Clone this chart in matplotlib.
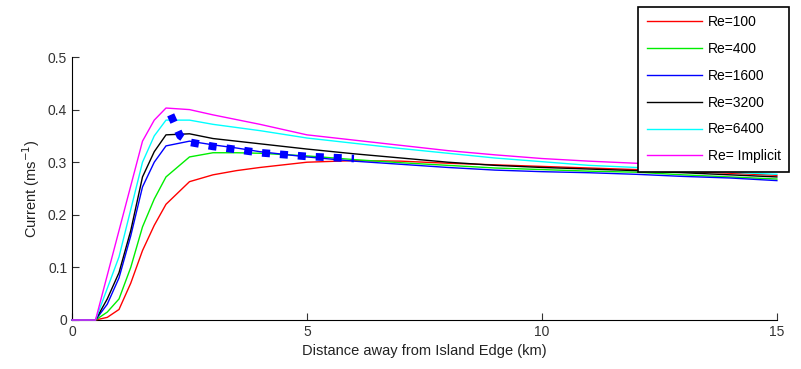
import matplotlib
matplotlib.use("Agg")
import matplotlib.pyplot as plt
import numpy as np

plt.rcParams['font.family'] = ['Liberation Sans', 'DejaVu Sans']

x = [0, 0.5, 0.75, 1.0, 1.25, 1.5, 1.75, 2.0, 2.5, 3.0, 3.5, 4.0, 5, 6, 7, 8, 9, 10, 11, 12, 13, 14, 15]
re100 = [0, 0, 0.005, 0.02, 0.07, 0.132, 0.18, 0.22, 0.263, 0.276, 0.284, 0.29, 0.300, 0.303, 0.302, 0.298, 0.295, 0.292, 0.289, 0.286, 0.283, 0.279, 0.275]
re400 = [0, 0, 0.015, 0.04, 0.10, 0.177, 0.23, 0.272, 0.31, 0.318, 0.318, 0.317, 0.312, 0.305, 0.299, 0.294, 0.289, 0.286, 0.283, 0.281, 0.276, 0.272, 0.268]
re1600 = [0, 0, 0.03, 0.08, 0.16, 0.253, 0.30, 0.331, 0.340, 0.333, 0.327, 0.32, 0.31, 0.302, 0.296, 0.29, 0.285, 0.282, 0.28, 0.277, 0.273, 0.27, 0.265]
re3200 = [0, 0, 0.04, 0.09, 0.17, 0.272, 0.32, 0.352, 0.354, 0.345, 0.34, 0.335, 0.325, 0.316, 0.308, 0.300, 0.294, 0.29, 0.287, 0.284, 0.28, 0.276, 0.272]
re6400 = [0, 0, 0.06, 0.12, 0.21, 0.30, 0.35, 0.38, 0.38, 0.372, 0.366, 0.36, 0.346, 0.336, 0.326, 0.317, 0.308, 0.301, 0.294, 0.29, 0.286, 0.281, 0.277]
re_impl = [0, 0, 0.085, 0.17, 0.255, 0.34, 0.38, 0.403, 0.40, 0.39, 0.381, 0.372, 0.352, 0.342, 0.332, 0.322, 0.314, 0.307, 0.302, 0.298, 0.294, 0.29, 0.287]

dash_x = [2.1, 2.3, 2.5, 3.0, 4.0, 5.0, 6.0]
dash_y = [0.39, 0.35, 0.338, 0.330, 0.318, 0.311, 0.307]

series = [
    ("Re=100", re100, "#ff0000"),
    ("Re=400", re400, "#00ee00"),
    ("Re=1600", re1600, "#0000ff"),
    ("Re=3200", re3200, "#000000"),
    ("Re=6400", re6400, "#00ffff"),
    ("Re= Implicit", re_impl, "#ff00ff"),
]

fig = plt.figure(figsize=(8.01, 3.69), dpi=100)
ax = fig.add_axes([0.0899, 0.1328, 0.880, 0.7127])
for label, y, c in series:
    ax.plot(x, y, color=c, lw=1.0, label=label, zorder=3, clip_on=False)
ax.plot(dash_x, dash_y, color="#0000ff", lw=5.5, ls=(0, (1.05, 1.3)),
        dash_capstyle="butt", zorder=4)

ax.set_xlim(0, 15)
ax.set_ylim(0, 0.5)
ax.set_xticks([0, 5, 10, 15])
ax.set_yticks([0, 0.1, 0.2, 0.3, 0.4, 0.5])
ax.set_yticklabels(["0", "0.1", "0.2", "0.3", "0.4", "0.5"])
for s in ["top", "right"]:
    ax.spines[s].set_visible(False)
ax.tick_params(direction="in", length=5, labelsize=10, colors="#333333")
ax.set_xlabel("Distance away from Island Edge (km)", fontsize=10.5, color="#222222")
ax.set_ylabel("Current (ms$^{-1}$)", fontsize=10.5, color="#222222")

leg = ax.legend(loc="upper right", bbox_to_anchor=(0.985, 0.981), bbox_transform=fig.transFigure,
                fontsize=10, frameon=True, fancybox=False, framealpha=1, edgecolor="black",
                handlelength=4.0, labelspacing=0.92, borderpad=0.6, handletextpad=0.4,
                borderaxespad=0)
leg.get_frame().set_linewidth(1.2)
leg.set_zorder(10)

fig.savefig("out.png", dpi=100)
